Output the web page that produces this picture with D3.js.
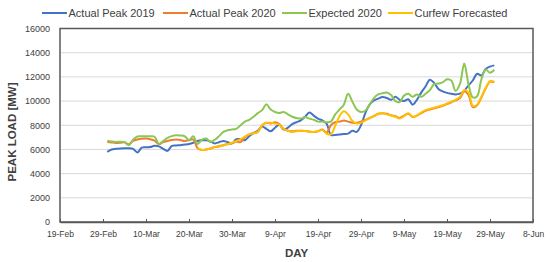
<!DOCTYPE html>
<html>
<head>
<meta charset="utf-8">
<script src="https://cdn.jsdelivr.net/npm/d3@7/dist/d3.min.js"></script>
<style>
  body { margin: 0; background: #fff; }
  text { font-family: "Liberation Sans", Arial, sans-serif; fill: #404040; }
</style>
</head>
<body>
<div id="chart"></div>
<script>
// daily values, first one is 1-Mar-2020
var seriesStart = "2020-03-01";
var peak2019 = [
  5800,6000,6050,6080,6100,6100,6050,5750,6150,6180,
  6200,6300,6250,6050,5880,6300,6330,6350,6400,6450,
  6550,6700,6750,6750,6650,6500,6600,6700,6600,6500,
  6850,6850,6760,7100,7350,7550,7900,7700,7500,7800,
  8050,7650,7800,8100,8250,8400,8700,9050,8800,8550,
  8400,8140,7200,7200,7230,7280,7310,7550,7450,8000,
  9000,9700,10050,10200,10330,10250,10100,10350,10100,10000,
  10150,9700,10100,10700,11200,11770,11500,11000,10800,10680,
  10600,10550,10610,10850,11300,11700,12260,12120,12650,12850,
  12950
];
var peak2020 = [
  6620,6580,6540,6560,6600,6430,6700,6820,6880,6900,
  6850,6720,6430,6600,6700,6780,6820,6780,6700,6760,
  6820,6100,5950,6000,6080,6200,6250,6350,6450,6500,
  6650,6600,7000,7250,7350,7450,8000,8200,8150,8250,
  8100,7700,7550,7500,7550,7550,7530,7480,7450,7500,
  7640,7400,8000,8250,8300,8400,8300,8200,8200,8300,
  8450,8600,8750,8950,9000,8950,8820,8750,8600,8800,
  8950,8680,8800,9000,9200,9300,9400,9500,9600,9750,
  9900,10050,10250,10800,10500,9500,9650,10300,11050,11600,
  11550
];
var expected2020 = [
  6710,6650,6620,6640,6600,6350,6800,7070,7090,7090,
  7090,7050,6450,6700,6950,7100,7170,7150,7090,6780,
  7090,6450,6800,6900,6620,6800,7100,7450,7590,7650,
  7700,8000,8300,8450,8700,9000,9250,9740,9300,9100,
  9010,9100,8900,8700,8600,8550,8680,8550,8450,8300,
  8300,8250,8300,8900,9300,9700,10610,9950,9300,9100,
  9200,9700,10250,10550,10650,10700,10500,10000,9920,10450,
  10600,10350,10550,10350,10600,10900,11400,11450,11550,11800,
  11700,10850,11400,13100,11400,10300,10400,11800,12600,12350,
  12590
];
// curfew forecast starts 22-Mar-2020
var curfewStart = "2020-03-22";
var curfew = [
  6100,5950,6000,6080,6200,6300,6350,6450,6550,
  6700,6850,7050,7250,7350,7450,8000,8200,8200,8150,
  8050,7700,7550,7450,7500,7550,7530,7480,7450,7500,
  7600,7300,7250,7950,8750,9150,8900,8350,8150,8200,
  8400,8600,8750,8950,9000,8900,8800,8700,8550,8750,
  9000,8700,8800,9050,9250,9350,9450,9550,9650,9800,
  9950,10100,10350,10900,10700,9600,9700,10350,11100,11650,
  11600
];
var seriesNames = ["Actual Peak 2019", "Actual Peak 2020", "Expected 2020", "Curfew Forecasted"];
var seriesColors = ["#4472C4", "#ED7D31", "#8CC653", "#FFC000"];
var yTicks = [0, 2000, 4000, 6000, 8000, 10000, 12000, 14000, 16000];
var xTicks = ["2020-02-19","2020-02-29","2020-03-10","2020-03-20","2020-03-30","2020-04-09",
              "2020-04-19","2020-04-29","2020-05-09","2020-05-19","2020-05-29","2020-06-08"];

var width = 550, height = 262;
var margin = {top: 28.5, right: 17, bottom: 40, left: 60};

var parse = d3.utcParse("%Y-%m-%d");
function toPoints(values, start) {
  var t0 = parse(start);
  return values.map(function(v, i) {
    return {date: d3.utcDay.offset(t0, i), value: v};
  });
}
var data = [
  toPoints(peak2019, seriesStart),
  toPoints(peak2020, seriesStart),
  toPoints(expected2020, seriesStart),
  toPoints(curfew, curfewStart)
];

var x = d3.scaleUtc()
  .domain([parse(xTicks[0]), parse(xTicks[xTicks.length - 1])])
  .range([margin.left, width - margin.right]);
var y = d3.scaleLinear()
  .domain([0, 16000])
  .range([height - margin.bottom, margin.top]);

var svg = d3.select("#chart").append("svg")
  .attr("width", width)
  .attr("height", height);

// gridlines
svg.append("g")
  .selectAll("line")
  .data(yTicks.slice(1, -1))
  .enter().append("line")
  .attr("x1", margin.left).attr("x2", width - margin.right)
  .attr("y1", function(d) { return y(d); })
  .attr("y2", function(d) { return y(d); })
  .attr("stroke", "#D9D9D9")
  .attr("stroke-width", 1);

// series
var line = d3.line()
  .curve(d3.curveCatmullRom)
  .x(function(d) { return x(d.date); })
  .y(function(d) { return y(d.value); });

svg.append("g")
  .selectAll("path")
  .data(data)
  .enter().append("path")
  .attr("d", line)
  .attr("fill", "none")
  .attr("stroke", function(d, i) { return seriesColors[i]; })
  .attr("stroke-width", 2)
  .attr("stroke-linejoin", "round");

// frame
svg.append("rect")
  .attr("x", margin.left)
  .attr("y", margin.top)
  .attr("width", width - margin.right - margin.left)
  .attr("height", height - margin.bottom - margin.top)
  .attr("fill", "none")
  .attr("stroke", "#595959")
  .attr("stroke-width", 1.5);

// x axis, ticks point up into the plot
var xAxis = svg.append("g")
  .attr("transform", "translate(0," + (height - margin.bottom) + ")")
  .call(d3.axisBottom(x)
    .tickValues(xTicks.map(parse))
    .tickFormat(d3.utcFormat("%-d-%b"))
    .tickSizeInner(-3)
    .tickSizeOuter(0)
    .tickPadding(9));
xAxis.select(".domain").attr("stroke", "#595959").attr("stroke-width", 1.5);
xAxis.selectAll(".tick line").attr("stroke", "#595959");
xAxis.selectAll("text").attr("font-size", 8.5).attr("fill", "#404040")
  .style("font-family", "'Liberation Sans', Arial, sans-serif");

// y axis, plain numbers without thousands separator
var yAxis = svg.append("g")
  .attr("transform", "translate(" + margin.left + ",0)")
  .call(d3.axisLeft(y).tickValues(yTicks).tickFormat(d3.format("d")).tickSize(0).tickPadding(10));
yAxis.select(".domain").remove();
yAxis.selectAll("text").attr("font-size", 9).attr("fill", "#404040")
  .style("font-family", "'Liberation Sans', Arial, sans-serif");

// axis titles
svg.append("text")
  .attr("x", (margin.left + width - margin.right) / 2)
  .attr("y", 257)
  .attr("text-anchor", "middle")
  .attr("font-size", 11.5)
  .attr("font-weight", "bold")
  .text("DAY");

svg.append("text")
  .attr("transform", "translate(16,132) rotate(-90)")
  .attr("text-anchor", "middle")
  .attr("font-size", 11.5)
  .attr("font-weight", "bold")
  .text("PEAK LOAD [MW]");

// legend
var legendX = [42, 163, 282, 388];
var legend = svg.append("g")
  .selectAll("g")
  .data(seriesNames)
  .enter().append("g")
  .attr("transform", function(d, i) { return "translate(" + legendX[i] + ",13)"; });
legend.append("line")
  .attr("x1", 0).attr("x2", 25)
  .attr("stroke", function(d, i) { return seriesColors[i]; })
  .attr("stroke-width", 2);
legend.append("text")
  .attr("x", 26.5)
  .attr("dy", "0.36em")
  .attr("font-size", 11)
  .text(function(d) { return d; });
</script>
</body>
</html>
